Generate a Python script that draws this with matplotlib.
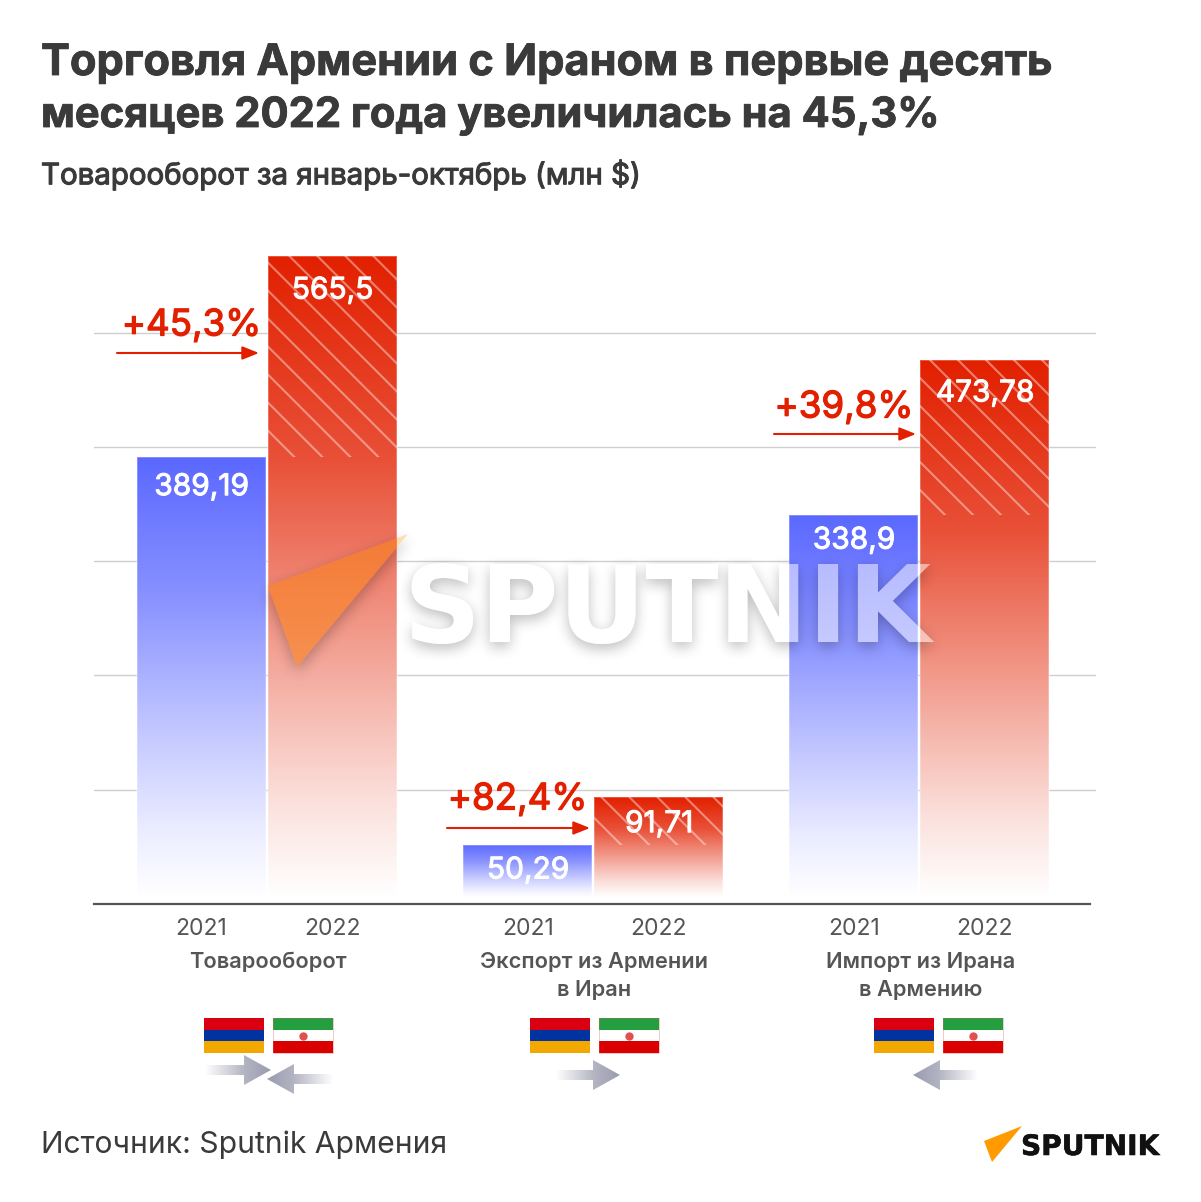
import numpy as np
import matplotlib
matplotlib.use("Agg")
import matplotlib.pyplot as plt
import matplotlib.patheffects as pe
from matplotlib.backends.backend_agg import FigureCanvasAgg
from matplotlib.figure import Figure
from matplotlib.patches import Polygon, Rectangle

W, H = 1201, 1202

years = ["2021", "2022"]
groups = ["Товарооборот", "Экспорт из Армении\nв Иран", "Импорт из Ирана\nв Армению"]
values_2021 = [389.19, 50.29, 338.9]
values_2022 = [565.5, 91.71, 473.78]
value_labels_2021 = ["389,19", "50,29", "338,9"]
value_labels_2022 = ["565,5", "91,71", "473,78"]
growth_labels = ["+45,3%", "+82,4%", "+39,8%"]
grid_values = [100, 200, 300, 400, 500]

title_lines = ["Торговля Армении с Ираном в первые десять", "месяцев 2022 года увеличилась на 45,3%"]
subtitle = "Товарооборот за январь-октябрь (млн $)"
source = "Источник: Sputnik Армения"

FONT = "Inter"
RED = "#e22000"
BLUE = "#5b68ff"
DARK = "#3a3a3a"
GREY = "#555555"

# pixel layout of the chart
centers_2021 = [201.5, 528, 854]
centers_2022 = [332.5, 659, 985]
group_centers = [268, 594, 921]
drop_2021 = [30, 26, 26]
drop_2022 = [35, 27, 33]
hatch_phase = [24, 10, 7]
bar_width = 129
base_px = 904
top_px = 240
px_per_unit = 1.143
bar_lift = 2 / px_per_unit  # bars stop a little above the axis line

RED_STOPS = ((0, 0), (0.32, 0.22), (0.55, 0.5), (0.85, 0.86), (1, 1))
BLUE_STOPS = ((0, 0), (0.32, 0.28), (0.55, 0.55), (0.85, 0.88), (1, 1))


def heavy(w, color):
    return [pe.withStroke(linewidth=w, foreground=color)]


def grad_img(color, stops, n=256):
    # fades the colour to white, returned as rgb image
    t = np.linspace(0, 1, n)
    mix = np.interp(t, [s[0] for s in stops], [s[1] for s in stops])
    rgb = np.array(matplotlib.colors.to_rgb(color))
    img = rgb[None, :] * (1 - mix[:, None]) + mix[:, None]
    return img[:, None, :]


def gradient_bar(ax, x, value, color, stops):
    top = value + bar_lift
    bar = ax.bar(x, value, bar_width, bottom=bar_lift, color="none", edgecolor=(1, 1, 1, 0.3),
                 linewidth=1.2, zorder=4)[0]
    im = ax.imshow(grad_img(color, stops), extent=(x - bar_width / 2, x + bar_width / 2, 7 / px_per_unit, top),
                   origin="upper", aspect="auto", zorder=3)
    clip = Rectangle((x - bar_width / 2, bar_lift), bar_width, value, transform=ax.transData)
    im.set_clip_path(clip)
    return bar


def hatch(ax, x, low, high, phase):
    left = x - bar_width / 2
    right = x + bar_width / 2
    low, high = low + bar_lift, high + bar_lift
    clip = Rectangle((left, low), bar_width, high - low, transform=ax.transData)
    span = (high - low) * px_per_unit
    for off in np.arange(-bar_width - 28 * 6, span + 28, 28):
        y0 = high - (off + phase) / px_per_unit
        y1 = y0 - bar_width / px_per_unit
        line, = ax.plot([left, right], [y0, y1], color="white", alpha=0.42, lw=1.5, zorder=5)
        line.set_clip_path(clip)


def flat_arrow(ov, tail, tip, y, color="#9a9bae"):
    # horizontal arrow fading to white at the tail
    sign = 1 if tip > tail else -1
    base = tip - sign * 27
    pts = [(tail, y - 5), (base, y - 5), (base, y - 15), (tip, y), (base, y + 15), (base, y + 5), (tail, y + 5)]
    t = np.linspace(0, 1, 128)
    mix = np.interp(t, [0, 0.6, 1], [1, 0.25, 0])
    rgb = np.array(matplotlib.colors.to_rgb(color))
    img = (rgb[None, :] * (1 - mix[:, None]) + mix[:, None])[None, :, :]
    im = ov.imshow(img, extent=(min(tail, tip), max(tail, tip), y + 15, y - 15) if sign > 0
                   else (max(tail, tip), min(tail, tip), y + 15, y - 15), aspect="auto", zorder=6)
    poly = Polygon(pts, closed=True, transform=ov.transData)
    im.set_clip_path(poly)


def flags(ov, x_am, x_ir):
    w, y, h = 60, 1018, 35
    for i, c in enumerate(["#d90012", "#0033a0", "#f2a800"]):
        ov.add_patch(Rectangle((x_am, y + i * h / 3), w, h / 3, color=c, lw=0, zorder=6))
    for i, c in enumerate(["#239f40", "#ffffff", "#da0000"]):
        ov.add_patch(Rectangle((x_ir, y + i * h / 3), w, h / 3, color=c, lw=0, zorder=6))
    ov.add_patch(Rectangle((x_ir, y), w, h, fc="none", ec=(0.85, 0.4, 0.4, 0.35), lw=0.7, zorder=6))
    ov.plot([x_ir + w / 2], [y + h / 2], "o", ms=6, color="#e05050", mew=0, zorder=7)


def draw_mark(ov, color, alpha, zorder=9):
    ov.text(403, 642, "SPUTNIK", family="DejaVu Sans", weight="bold", fontsize=77, color=color,
            alpha=alpha, ha="left", va="baseline", zorder=zorder)


def watermark_shadow():
    # soft shadow of the big logo, cut out under the letters
    f = Figure(figsize=(W / 100, H / 100), dpi=100, facecolor="white")
    FigureCanvasAgg(f)
    a = f.add_axes([0, 0, 1, 1])
    a.set_xlim(0, W)
    a.set_ylim(H, 0)
    a.axis("off")
    draw_mark(a, "black", 1)
    a.add_patch(Polygon(triangle, closed=True, color="black", lw=0))
    f.canvas.draw()
    mask = 1 - np.asarray(f.canvas.buffer_rgba())[:, :, 0] / 255.0
    blur = mask.copy()
    k = np.ones(13) / 13
    for _ in range(3):
        blur = np.apply_along_axis(lambda r: np.convolve(r, k, mode="same"), 0, blur)
        blur = np.apply_along_axis(lambda r: np.convolve(r, k, mode="same"), 1, blur)
    blur = np.roll(blur, 5, axis=0)
    out = np.zeros((H, W, 4))
    out[:, :, 3] = np.clip(blur * 0.26, 0, 1) * (1 - mask)
    return out


triangle = [(408, 534), (268, 586), (297, 667)]

fig = plt.figure(figsize=(W / 100, H / 100), dpi=100, facecolor="white")
ax = fig.add_axes([94 / W, (H - base_px) / H, 1002 / W, (base_px - top_px) / H])
ov = fig.add_axes([0, 0, 1, 1], facecolor="none")
ov.set_xlim(0, W)
ov.set_ylim(H, 0)
ov.axis("off")

for x, v in zip(centers_2021, values_2021):
    gradient_bar(ax, x, v, BLUE, BLUE_STOPS)
for x, v, low, ph in zip(centers_2022, values_2022, values_2021, hatch_phase):
    gradient_bar(ax, x, v, RED, RED_STOPS)
    hatch(ax, x, low, v, ph)

ax.set_xlim(94, 1096)
ax.set_ylim(0, (base_px - top_px) / px_per_unit)
ax.set_yticks(grid_values)
ax.set_yticklabels([])
ax.tick_params(axis="y", length=0)
ax.grid(axis="y", color="#cfcfcf", lw=1, zorder=0)
ax.set_axisbelow(True)
for s in ["top", "left", "right"]:
    ax.spines[s].set_visible(False)
ax.spines["bottom"].set_bounds(94, 1090)
ax.spines["bottom"].set_color(GREY)
ax.spines["bottom"].set_linewidth(1.6)
ax.spines["bottom"].set_zorder(8)
ticks = centers_2021 + centers_2022
ax.set_xticks(ticks)
ax.set_xticklabels([years[0]] * 3 + [years[1]] * 3, family=FONT, fontsize=16.5, color=GREY)
ax.tick_params(axis="x", length=0, pad=10)

for x, v, lab, d in zip(centers_2021 + centers_2022, values_2021 + values_2022,
                        value_labels_2021 + value_labels_2022, drop_2021 + drop_2022):
    ax.annotate(lab, (x, v + bar_lift), xytext=(0, -d * 0.72), textcoords="offset points", ha="center", va="center",
                family=FONT, fontsize=21.5, color="white", zorder=10, path_effects=heavy(0.7, "white"))

# growth labels and red arrows
arrow_left = [117, 447, 774]
arrow_right = [259, 590, 916]
arrow_y = [353, 828, 434]
label_right = [261, 587, 913]
label_y = [326, 800, 408]
for x0, x1, y, tx, ty, lab in zip(arrow_left, arrow_right, arrow_y, label_right, label_y, growth_labels):
    ov.annotate("", xy=(x1, y), xytext=(x0, y), zorder=7,
                arrowprops=dict(arrowstyle="-|>,head_length=1.0,head_width=0.4", color=RED, lw=1.5,
                                shrinkA=0, shrinkB=0))
    ov.text(tx, ty, lab, ha="right", va="center", family=FONT, fontsize=26.4, color=RED, zorder=7,
            path_effects=heavy(0.9, RED))

# titles
ov.text(41, 75, title_lines[0], family=FONT, fontsize=31.2, weight="bold", color=DARK, ha="left", va="baseline",
        path_effects=heavy(0.6, DARK))
ov.text(41, 127, title_lines[1], family=FONT, fontsize=30, weight="bold", color=DARK, ha="left", va="baseline",
        path_effects=heavy(0.6, DARK))
ov.text(41, 175, subtitle, family=FONT, fontsize=21.2, color=DARK, ha="left", va="center",
        path_effects=heavy(0.8, DARK))
ov.text(41, 1145, source, family=FONT, fontsize=21.6, color=DARK, ha="left", va="center")

for x, lab in zip(group_centers, groups):
    ov.text(x, 976 if "\n" in lab else 962, lab, family=FONT, fontsize=15.7, weight="semibold", color=GREY,
            ha="center", va="center", linespacing=1.52)

# flags and direction arrows
flags(ov, 204, 273)
flags(ov, 530, 599)
flags(ov, 874, 943)
flat_arrow(ov, 205, 271, 1070)
flat_arrow(ov, 333, 267, 1079)
flat_arrow(ov, 556, 620, 1075)
flat_arrow(ov, 978, 913, 1075)

# watermark
ov.imshow(watermark_shadow(), extent=(0, W, H, 0), aspect="auto", zorder=8)
ov.set_xlim(0, W)
ov.set_ylim(H, 0)
ov.add_patch(Polygon(triangle, closed=True, color="#ffa432", alpha=0.38, lw=0, zorder=9))
over_bar = Polygon(triangle, closed=True, color="#f56a10", alpha=0.35, lw=0, zorder=9)
ov.add_patch(over_bar)
over_bar.set_clip_path(Rectangle((268, 500), 129, 300, transform=ov.transData))
draw_mark(ov, "white", 0.5)

# footer logo
ov.add_patch(Polygon([(1022, 1126), (984, 1141), (992, 1162)], closed=True, color="#ff9a00", lw=0, zorder=9))
ov.text(1021, 1155, "SPUTNIK", family="DejaVu Sans", weight="bold", fontsize=20.2, color="#111111",
        ha="left", va="baseline", zorder=9, path_effects=heavy(0.4, "#111111"))

fig.savefig("out.png", dpi=100)
